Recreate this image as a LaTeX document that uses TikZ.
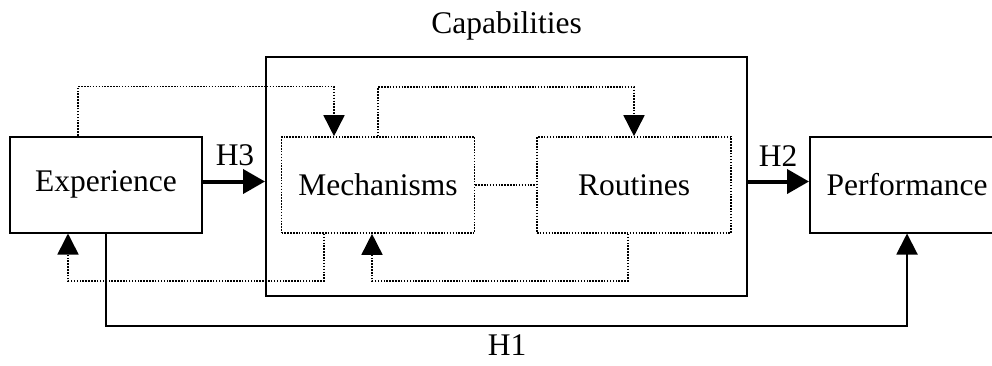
\documentclass[tikz,border=0pt]{standalone}
\usepackage{fontspec}
\setmainfont{Liberation Serif}
\usetikzlibrary{arrows.meta}

\tikzset{
  block/.style={draw, line width=2pt, minimum width=192pt, minimum height=96pt, inner sep=0pt},
  subblock/.style={draw, line width=1.6pt, dash pattern=on 1.5pt off 1.4pt, minimum width=193pt, minimum height=96pt, inner sep=0pt},
  mainarrow/.style={line width=4pt, -{Triangle[length=22pt,width=24pt]}},
  linkarrow/.style={line width=2pt, -{Triangle[length=21pt,width=21pt]}},
  dotline/.style={line width=1.6pt, dash pattern=on 1.5pt off 1.4pt},
  dotarrow/.style={dotline, -{Triangle[length=21pt,width=21pt]}}
}

\begin{document}
\begin{tikzpicture}[x=1pt,y=-1pt,font=\fontsize{31.5}{37}\selectfont]

\path [use as bounding box] (0,0) rectangle (992,365);

% BOXES
\node [block] (exp) at (106,184.5) {Experience};
\node [draw, line width=2pt, minimum width=481pt, minimum height=239pt, inner sep=0pt] (caps) at (506.5,176.5) {};
\node [subblock] (mech) at (378,185) {Mechanisms};
\node [subblock, minimum width=194pt] (rout) at (634,185) {Routines};
\node [block, minimum width=194pt] (perf) at (907,184.5) {Performance};

% LABELS
\node [anchor=base] (capslabel) at (506.5,33) {Capabilities};
\node [anchor=base] (hthree) at (235,165) {H3};
\node [anchor=base] (htwo) at (778,166) {H2};
\node [anchor=base] (hone) at (507,355) {H1};

% HYPOTHESES
\draw [mainarrow] ([yshift=3pt]exp.east) -- ([yshift=3pt]exp.east -| caps.west);
\draw [mainarrow] ([yshift=3pt]perf.west -| caps.east) -- ([yshift=3pt]perf.west);
\draw [linkarrow] (exp.south) -- ++(0,92) -| (perf.south);

% FEEDBACK
\draw [dotarrow] ([xshift=-28pt]exp.north) -- ++(0,-49) -| ([xshift=-44pt]mech.north);
\draw [dotarrow] (mech.north) -- ++(0,-49) -| (rout.north);
\draw [dotarrow] ([xshift=-54pt]mech.south) -- ++(0,47) -| ([xshift=-38pt]exp.south);
\draw [dotarrow] ([xshift=-6pt]rout.south) -- ++(0,47) -| ([xshift=-6pt]mech.south);
\draw [dotline] (mech) -- (rout);

\end{tikzpicture}
\end{document}
